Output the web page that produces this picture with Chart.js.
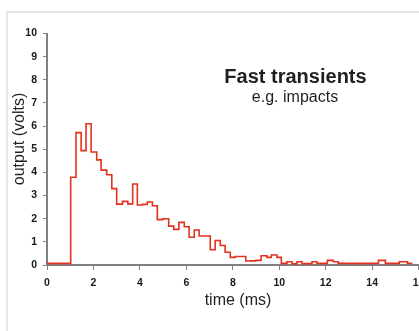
<!DOCTYPE html>
<html lang="en">
<head>
  <meta charset="UTF-8">
  <title>Fast transients</title>
  <style>
    body{margin:0;width:419px;height:331px;overflow:hidden;background:#fff;position:relative}
    #frame{position:absolute;left:6px;top:11px;width:600px;height:500px;border-top:2px solid #e6e6e6;border-left:2px solid #e6e6e6}
    canvas{position:absolute;left:0;top:0}
  </style>
  <script src="https://cdn.jsdelivr.net/npm/chart.js"></script>
</head>
<body>
  <div id="frame"></div>
  <canvas id="chart" width="430" height="331"></canvas>
  <script>
    // step start times (ms) and the output level held from each one
    const times = [0, 1.02, 1.25, 1.47, 1.68, 1.90, 2.14, 2.33, 2.57, 2.79, 3.00, 3.25, 3.48, 3.69, 3.89, 4.11,
                   4.32, 4.54, 4.75, 4.99, 5.24, 5.46, 5.68, 5.91, 6.12, 6.34, 6.55, 6.77, 7.03, 7.24, 7.46,
                   7.67, 7.89, 8.10, 8.32, 8.56, 8.77, 8.99, 9.22, 9.47, 9.66, 9.90, 10.09, 10.33, 10.55,
                   10.76, 10.98, 11.19, 11.41, 11.62, 12.07, 12.33, 12.54, 14.27, 14.57, 15.17, 15.52, 15.73];
    const volts = [0.07, 3.79, 5.72, 4.94, 6.10, 4.88, 4.54, 4.10, 3.90, 3.30, 2.63, 2.75, 2.64, 3.50, 2.59, 2.62,
                   2.72, 2.56, 1.96, 2.00, 1.68, 1.54, 1.84, 1.65, 1.20, 1.51, 1.25, 1.25, 0.66, 1.06, 0.84,
                   0.55, 0.33, 0.37, 0.37, 0.17, 0.18, 0.20, 0.40, 0.33, 0.43, 0.33, 0.07, 0.14, 0.05,
                   0.14, 0.06, 0.06, 0.14, 0.07, 0.20, 0.14, 0.07, 0.20, 0.07, 0.14, 0.07, 0.07];
    const xTicks = [0, 2, 4, 6, 8, 10, 12, 14, 16];
    const yTicks = [0, 1, 2, 3, 4, 5, 6, 7, 8, 9, 10];

    const FONT = "'Liberation Sans', Arial, sans-serif";
    const tickFont = { family: FONT, size: 10.5, weight: 'bold' };

    const labels = {
      id: 'labels',
      afterDraw(chart) {
        const c = chart.ctx;
        c.save();
        c.fillStyle = '#231f20';
        c.textAlign = 'center';
        c.textBaseline = 'alphabetic';
        c.font = `bold 20px ${FONT}`;
        c.fillText('Fast transients', 295.5, 83);
        c.font = `16px ${FONT}`;
        c.fillText('e.g. impacts', 295, 102);
        c.fillText('time (ms)', 238, 305);
        c.translate(23.5, 139);
        c.rotate(-Math.PI / 2);
        c.fillText('output (volts)', 0, 0);
        c.restore();
      }
    };

    new Chart(document.getElementById('chart'), {
      type: 'line',
      data: {
        datasets: [{
          data: times.map((t, i) => ({ x: t, y: volts[i] })),
          stepped: true,
          borderColor: '#e2311d',
          borderWidth: 1.6,
          pointRadius: 0,
          fill: false
        }]
      },
      options: {
        responsive: false,
        animation: false,
        devicePixelRatio: 1,
        layout: { padding: { top: 33.5, right: 11.4, left: 0, bottom: 0 } },
        scales: {
          x: {
            type: 'linear', min: 0, max: 16,
            afterBuildTicks: s => { s.ticks = xTicks.map(v => ({ value: v })); },
            afterFit: s => { s.height = 66; s.paddingLeft = 0; s.paddingRight = 0; },
            ticks: { font: tickFont, color: '#1a1a1a', padding: 7, maxRotation: 0, autoSkip: false },
            grid: { drawOnChartArea: false, tickLength: 5, tickColor: '#808080', tickWidth: 1 },
            border: { color: '#808080', width: 2 }
          },
          y: {
            min: 0, max: 10,
            afterBuildTicks: s => { s.ticks = yTicks.map(v => ({ value: v })); },
            afterFit: s => { s.width = 47; s.paddingTop = 0; s.paddingBottom = 0; },
            ticks: { font: tickFont, color: '#1a1a1a', padding: 6, autoSkip: false },
            grid: { drawOnChartArea: false, tickLength: 4, tickColor: '#808080', tickWidth: 1 },
            border: { color: '#808080', width: 2 }
          }
        },
        plugins: { legend: { display: false }, tooltip: { enabled: false } }
      },
      plugins: [labels]
    });
  </script>
</body>
</html>
